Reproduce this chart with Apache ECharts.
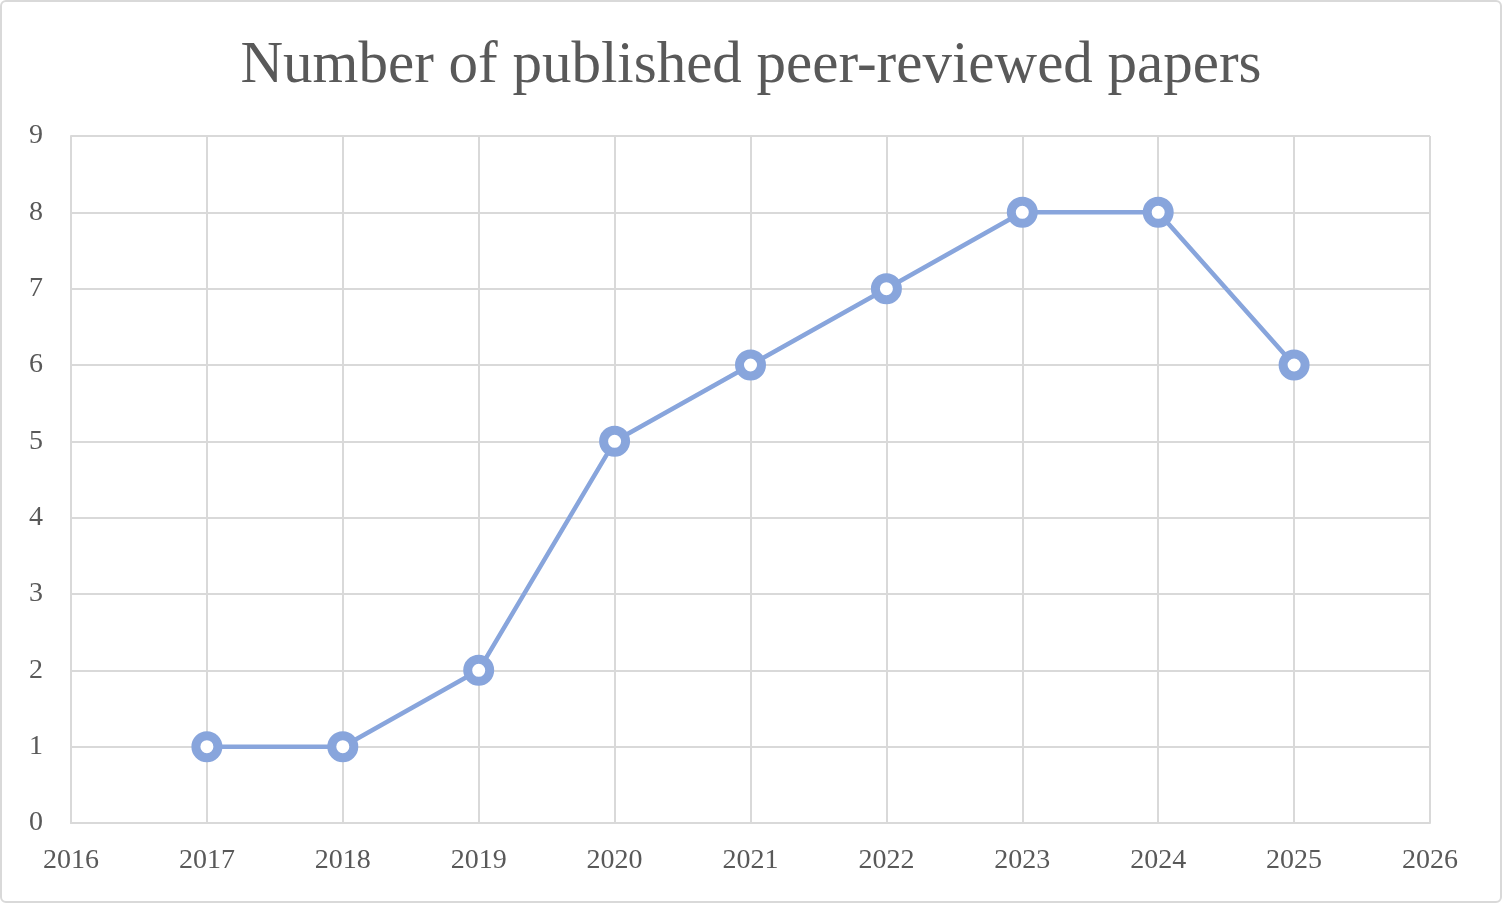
<!DOCTYPE html>
<html><head><meta charset="utf-8">
<script src="https://cdn.jsdelivr.net/npm/echarts@6/dist/echarts.min.js"></script>
<style>html,body{margin:0;padding:0;background:#fff}#c{width:1502px;height:903px;box-sizing:border-box;border:2px solid #d9d9d9;border-radius:6px}</style>
</head><body><div id="c"></div>
<script>
const years = [2017, 2018, 2019, 2020, 2021, 2022, 2023, 2024, 2025];
const papers = [1, 1, 2, 5, 6, 7, 8, 8, 6];
const chart = echarts.init(document.getElementById('c'));
const font = 'Liberation Serif, Times New Roman, serif';
chart.setOption({
  animation: false,
  title: {text: 'Number of published peer-reviewed papers', left: 'center', top: 30,
    textStyle: {fontFamily: font, fontSize: 59, fontWeight: 'normal', color: '#595959'}},
  grid: {left: 69, right: 70, top: 134, bottom: 78},
  xAxis: {type: 'value', min: 2016, max: 2026, interval: 1,
    axisLine: {lineStyle: {color: '#d9d9d9', width: 2}}, axisTick: {show: false},
    splitLine: {lineStyle: {color: '#d9d9d9', width: 2}},
    axisLabel: {fontFamily: font, fontSize: 28, color: '#595959', margin: 24, formatter: v => String(v)}},
  yAxis: {type: 'value', min: 0, max: 9, interval: 1,
    axisLine: {show: true, lineStyle: {color: '#d9d9d9', width: 2}}, axisTick: {show: false},
    splitLine: {lineStyle: {color: '#d9d9d9', width: 2}},
    axisLabel: {fontFamily: font, fontSize: 28, color: '#595959', margin: 28}},
  series: [{type: 'line', data: years.map((y, i) => [y, papers[i]]),
    lineStyle: {color: '#88a5dc', width: 4.5},
    symbol: 'circle', symbolSize: 22,
    itemStyle: {color: '#ffffff', borderColor: '#88a5dc', borderWidth: 9}}]
});
</script></body></html>
